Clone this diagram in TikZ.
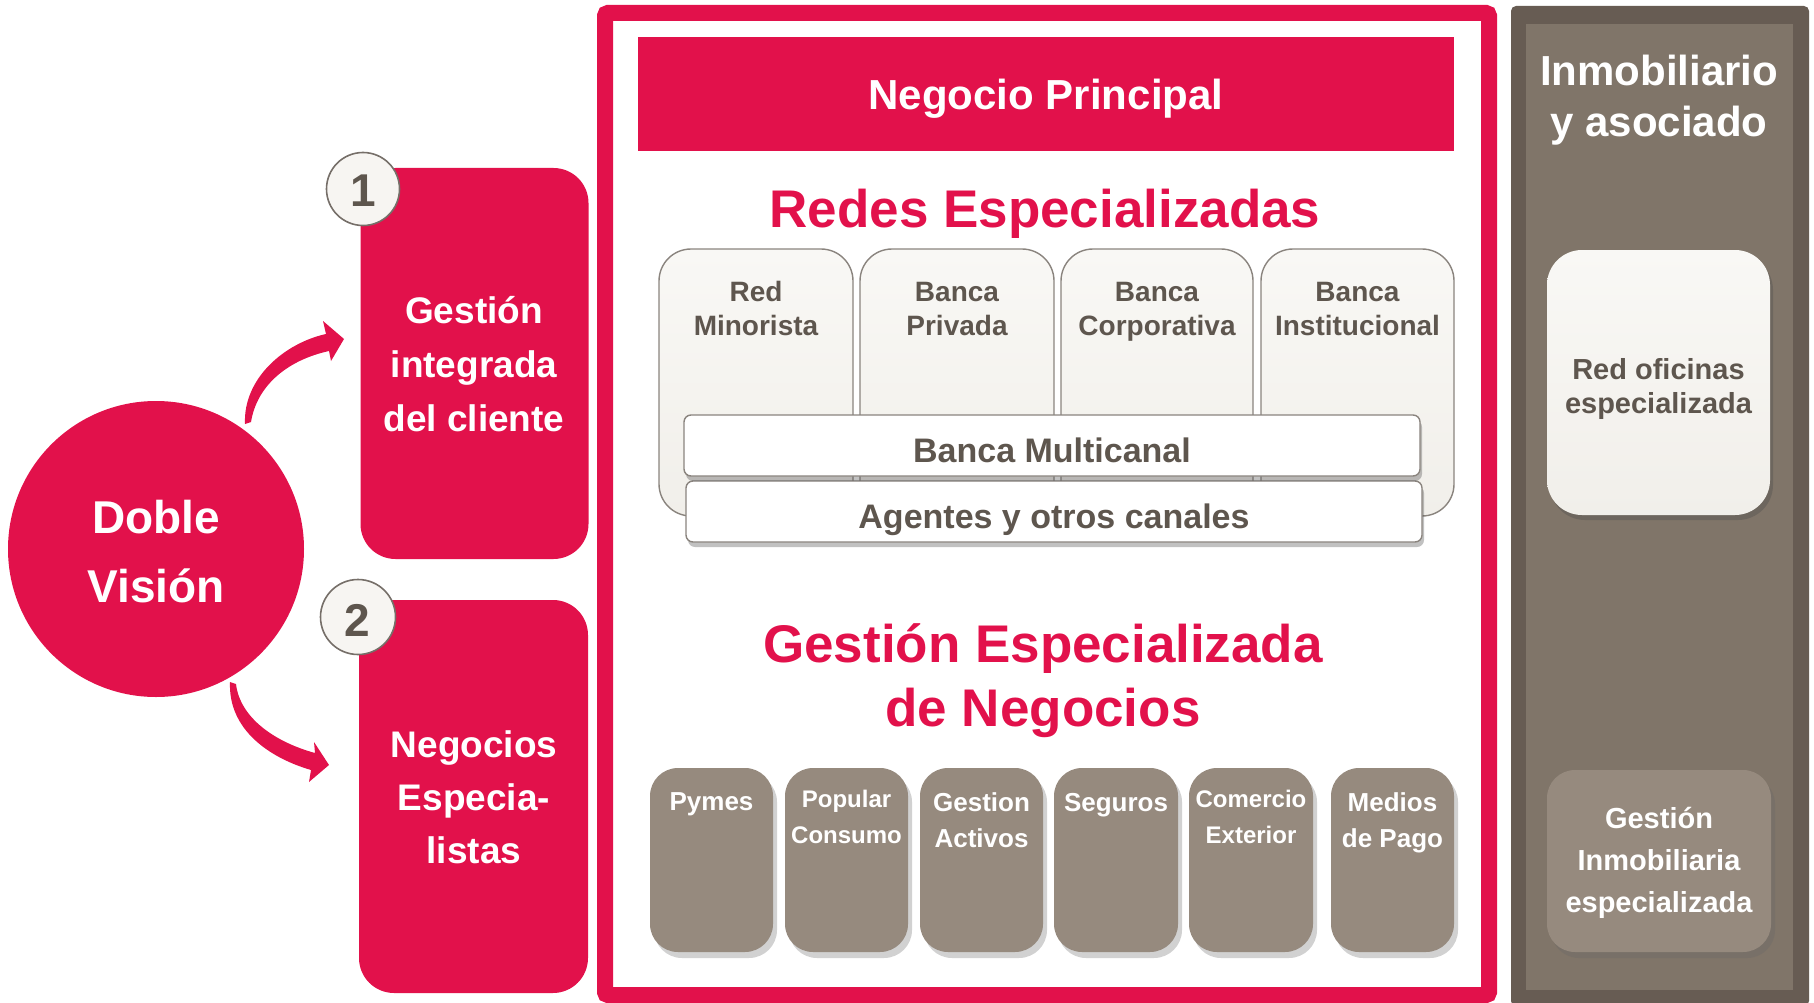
\documentclass[tikz,border=0pt]{standalone}
\usepackage{fontspec}
\setmainfont{Liberation Sans}
\usetikzlibrary{shadows}
\definecolor{rojo}{HTML}{E2114B}
\definecolor{txtgris}{HTML}{5E564E}
\definecolor{marron}{HTML}{968A7E}
\definecolor{oscuro}{HTML}{675C53}
\definecolor{medio}{HTML}{807569}
\definecolor{claroA}{HTML}{F9F8F5}
\definecolor{claroB}{HTML}{F1EFEA}
\definecolor{borde}{HTML}{8A847E}
\newcommand{\fs}[2]{\fontsize{#1}{#2}\selectfont\bfseries}
\tikzset{
  redbox/.style={fill=rojo, draw=none, rounded corners=35pt, minimum width=228pt, inner sep=0pt},
  numcirc/.style={circle, fill=claroB!60!white, draw=txtgris!85, line width=1.6pt, minimum size=73pt, inner sep=0pt},
  colbox/.style={rounded corners=32pt, top color=claroA, bottom color=claroB, draw=borde, line width=1.4pt, minimum height=267pt, inner sep=0pt},
  barbox/.style={rounded corners=7pt, fill=white, draw=borde, line width=1.4pt, minimum width=736pt, minimum height=61pt, inner sep=0pt,
     drop shadow={shadow xshift=2pt, shadow yshift=-5pt, opacity=.35, fill=black!70}},
  brownbox/.style={rounded corners=28pt, fill=marron, draw=none, minimum height=184pt, inner sep=0pt,
     drop shadow={shadow xshift=4pt, shadow yshift=-6pt, opacity=.3, fill=black!60}},
  lbl/.style={anchor=base, align=center, inner sep=0pt},
  wtxt/.style={lbl, text=white},
  gtxt/.style={lbl, text=txtgris},
  rtxt/.style={lbl, text=rojo},
  arrowshape/.style={fill=rojo, draw=none},
}
\begin{document}
\begin{tikzpicture}[x=1pt,y=-1pt]
\useasboundingbox (0,0) rectangle (1814,1003);
% ---------------- left part ----------------
\node[circle, fill=rojo, minimum size=296pt, inner sep=0pt] (dv) at (156,549) {};
\node[wtxt, font=\fs{46}{69}] (dvt) at (156,602) {Doble\\Visión};

\node[redbox, minimum height=391pt] (gi) at (474.5,363.5) {};
\node[wtxt, font=\fs{37}{54}] (git) at (474,431) {Gestión\\integrada\\del cliente};
\node[numcirc] (n1) at (363,189) {};
\node[gtxt, font=\fs{46}{50}] (n1t) at (363,207) {1};

\node[redbox, minimum height=393pt, minimum width=229pt] (ne) at (473.5,796.5) {};
\node[wtxt, font=\fs{37}{53}] (net) at (474,863) {Negocios\\Especia-\\listas};
\node[numcirc, minimum size=75pt] (n2) at (358,617) {};
\node[gtxt, font=\fs{46}{50}] (n2t) at (357,636) {2};

% curved arrows
\coordinate (t1) at (245,424);
\coordinate (h1) at (344,339);
\fill[arrowshape] (t1) .. controls (243,378) and (285,343) .. (326,334)
   -- (323,321) -- (h1) -- (331,361) -- (329,351)
   .. controls (288,360) and (257,385) .. (251,422) -- cycle;
\coordinate (t2) at (230,682);
\coordinate (h2) at (329,765);
\fill[arrowshape] (t2) .. controls (228,730) and (270,758) .. (311,770)
   -- (309,782) -- (h2) -- (314,742) -- (315,753)
   .. controls (275,742) and (240,718) .. (236,684) -- cycle;

% ---------------- central frame ----------------
\node[draw=rojo, line width=16pt, rounded corners=3pt, minimum width=884pt, minimum height=982pt, inner sep=0pt] (frame) at (1047,504) {};
\node[fill=rojo, minimum width=816pt, minimum height=114pt, inner sep=0pt] (np) at (1046,94) {};
\node[wtxt, font=\fs{42}{50}] (npt) at (1046,110) {Negocio Principal};
\node[rtxt, font=\fs{53}{60}] (re) at (1045,227) {Redes Especializadas};

\node[colbox, minimum width=194pt] (c1) at (756,382.5) {};
\node[colbox, minimum width=194pt] (c2) at (957,382.5) {};
\node[colbox, minimum width=192pt] (c3) at (1157,382.5) {};
\node[colbox, minimum width=193pt] (c4) at (1357.5,382.5) {};
\node[gtxt, font=\fs{28}{34}] (c1t) at (756,335) {Red\\Minorista};
\node[gtxt, font=\fs{28}{34}] (c2t) at (957,335) {Banca\\Privada};
\node[gtxt, font=\fs{28}{34}] (c3t) at (1157,335) {Banca\\Corporativa};
\node[gtxt, font=\fs{28}{34}] (c4t) at (1357.5,335) {Banca\\Institucional};

\node[barbox] (ag) at (1054,511.5) {};
\node[gtxt, font=\fs{34}{40}] (agt) at (1054,528) {Agentes y otros canales};
\node[barbox] (bm) at (1052,445.5) {};
\node[gtxt, font=\fs{34}{40}] (bmt) at (1052,462) {Banca Multicanal};

\node[rtxt, font=\fs{53}{64}] (ge) at (1043,726) {Gestión Especializada\\de Negocios};

\node[brownbox, minimum width=123pt] (b1) at (711.5,860) {};
\node[brownbox, minimum width=123pt] (b2) at (846.5,860) {};
\node[brownbox, minimum width=123pt] (b3) at (981.5,860) {};
\node[brownbox, minimum width=124pt] (b4) at (1116,860) {};
\node[brownbox, minimum width=124pt] (b5) at (1251,860) {};
\node[brownbox, minimum width=123pt] (b6) at (1392.5,860) {};
\node[wtxt, font=\fs{26}{36}] (b1t) at (711.5,810) {Pymes};
\node[wtxt, font=\fs{24}{36}] (b2t) at (846.5,843) {Popular\\Consumo};
\node[wtxt, font=\fs{26}{36}] (b3t) at (981.5,847) {Gestion\\Activos};
\node[wtxt, font=\fs{26}{36}] (b4t) at (1116,811) {Seguros};
\node[wtxt, font=\fs{24}{36}] (b5t) at (1251,843) {Comercio\\Exterior};
\node[wtxt, font=\fs{26}{36}] (b6t) at (1392.5,847) {Medios\\de Pago};

% ---------------- right column ----------------
\node[fill=oscuro, rounded corners=5pt, minimum width=298pt, minimum height=1000pt, inner sep=0pt] (rc) at (1660,506) {};
\node[fill=medio, minimum width=267pt, minimum height=966pt, inner sep=0pt] (rci) at (1659.5,507) {};
\node[wtxt, font=\fs{42}{51}] (rct) at (1659,137) {Inmobiliario\\y asociado};
\node[rounded corners=35pt, top color=claroA, bottom color=claroB, draw=none, minimum width=223pt, minimum height=265pt, inner sep=0pt,
   drop shadow={shadow xshift=3pt, shadow yshift=-5pt, opacity=.35, fill=black!70}] (ro) at (1658.5,382.5) {};
\node[gtxt, font=\fs{29}{34}] (rot) at (1658.5,413) {Red oficinas\\especializada};
\node[brownbox, minimum width=224pt, minimum height=182pt] (gin) at (1659,861) {};
\node[wtxt, font=\fs{29}{42}] (gint) at (1659,912) {Gestión\\Inmobiliaria\\especializada};
\end{tikzpicture}
\end{document}
